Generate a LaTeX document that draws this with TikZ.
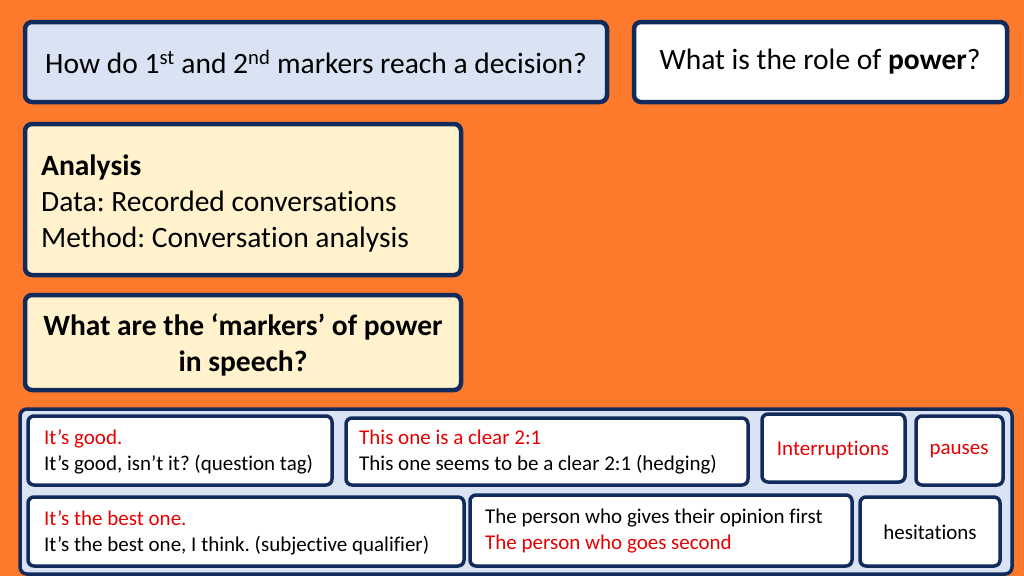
\documentclass[tikz,border=0pt]{standalone}
\usepackage{fontspec}
\setmainfont{Carlito}[RawFeature=-liga]
\frenchspacing
\definecolor{bg}{HTML}{FD7A2C}
\definecolor{navy}{HTML}{112B5C}
\definecolor{lblue}{HTML}{DAE3F3}
\definecolor{lyel}{HTML}{FFF2CC}
\definecolor{rd}{HTML}{E60000}
\begin{document}
\begin{tikzpicture}[x=1pt,y=-1pt,
 box/.style={draw=navy,line width=4.5pt,rounded corners=7pt},
 thin/.style={draw=navy,line width=3.5pt,rounded corners=6pt,fill=white},
 big/.style={font=\fontsize{29.5}{36}\selectfont,inner sep=0pt},
 sm/.style={font=\fontsize{21}{26}\selectfont,inner sep=0pt}]
\fill[bg] (0,0) rectangle (1024,576);
\useasboundingbox (0,0) rectangle (1024,576);
\draw[box,fill=lblue] (25,22) rectangle (607,102);
\node[big] (q1) at (316,62) {How do 1\textsuperscript{st} and 2\textsuperscript{nd} markers reach a decision?};
\draw[box,fill=white] (634,22) rectangle (1007,102);
\node[big] (q2) at (820,62) {What is the role of \textbf{power}?};
\draw[box,fill=lyel] (25,124) rectangle (461,275);
\node[big,anchor=west,align=left] (an) at (41,204) {\textbf{Analysis}\\Data: Recorded conversations\\Method: Conversation analysis};
\draw[box,fill=lyel] (25,295) rectangle (461,390);
\node[big,align=center,font=\fontsize{29.5}{36}\selectfont\bfseries] (mk) at (243,345) {What are the ‘markers’ of power\\in speech?};
\draw[box,fill=lblue,line width=3.5pt] (20,409) rectangle (1012,574);
\draw[thin] (28,416) rectangle (332,485);
\node[sm,anchor=west,align=left] (a) at (44,452) {\textcolor{rd}{It’s good.}\\It’s good, isn’t it? (question tag)};
\draw[thin] (346,418) rectangle (748,485);
\node[sm,anchor=west,align=left] (b) at (359,452) {\textcolor{rd}{This one is a clear 2:1}\\This one seems to be a clear 2:1 (hedging)};
\draw[thin] (762,414) rectangle (905,482);
\node[sm,text=rd] (c) at (833,450) {Interruptions};
\draw[thin] (916,416) rectangle (1003,485);
\node[sm,text=rd] (d) at (959,451) {pauses};
\draw[thin] (28,497) rectangle (464,566);
\node[sm,anchor=west,align=left] (e) at (44,533) {\textcolor{rd}{It’s the best one.}\\It’s the best one, I think. (subjective qualifier)};
\draw[thin] (470,495) rectangle (852,566);
\node[sm,anchor=west,align=left] (f) at (485,531) {The person who gives their opinion first\\\textcolor{rd}{The person who goes second}};
\draw[thin] (860,497) rectangle (1000,566);
\node[sm] (g) at (930,532) {hesitations};
\end{tikzpicture}
\end{document}
